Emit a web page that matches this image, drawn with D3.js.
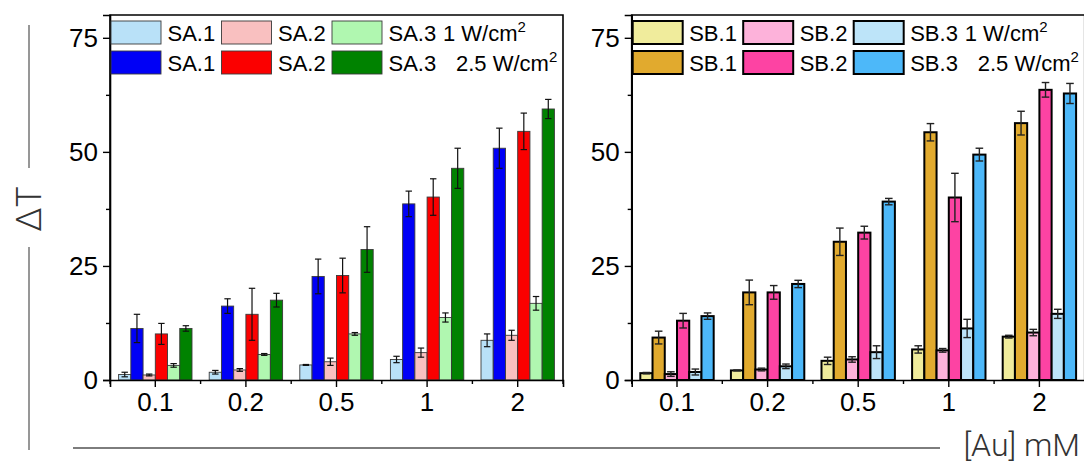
<!DOCTYPE html>
<html>
<head>
<meta charset="utf-8">
<script src="https://cdn.jsdelivr.net/npm/d3@7"></script>
<style>
  html, body { margin: 0; padding: 0; background: #fff; }
  svg { display: block; }
  text { font-family: "Liberation Sans", Arial, sans-serif; fill: #000; }
  .light { font-family: Roboto, "Open Sans", sans-serif; font-weight: 300; fill: #333; }
</style>
</head>
<body>
<svg id="chart" width="1084" height="463"></svg>
<script>
// Gold concentrations (mM) on the x axis
const categories = ["0.1", "0.2", "0.5", "1", "2"];

// Y axis ticks
const majorTicks = [0, 25, 50, 75];
const minorTicks = [12.5, 37.5, 62.5];

// Series SA: temperature rise at 1 W/cm² and 2.5 W/cm²
const sa1Low = [1.2, 1.7, 3.3, 4.5, 8.7];
const sa1LowErr = [0.5, 0.4, 0.1, 0.7, 1.4];
const sa1High = [11.3, 16.2, 22.7, 38.6, 50.8];
const sa1HighErr = [3.1, 1.6, 3.8, 2.8, 4.4];
const sa2Low = [1.1, 2.2, 4.0, 6.0, 9.8];
const sa2LowErr = [0.2, 0.3, 0.8, 1.0, 1.1];
const sa2High = [10.1, 14.4, 22.9, 40.1, 54.5];
const sa2HighErr = [2.3, 5.7, 3.8, 4.0, 4.0];
const sa3Low = [3.2, 5.6, 10.1, 13.7, 16.8];
const sa3LowErr = [0.4, 0.2, 0.3, 1.0, 1.5];
const sa3High = [11.3, 17.5, 28.6, 46.4, 59.4];
const sa3HighErr = [0.6, 1.5, 5.0, 4.4, 2.1];

// Series SB: temperature rise at 1 W/cm² and 2.5 W/cm²
const sb1Low = [1.5, 2.1, 4.2, 6.7, 9.5];
const sb1LowErr = [0.15, 0.1, 0.8, 0.8, 0.3];
const sb1High = [9.3, 19.2, 30.3, 54.3, 56.3];
const sb1HighErr = [1.4, 2.7, 3.0, 1.9, 2.6];
const sb2Low = [1.3, 2.3, 4.5, 6.5, 10.4];
const sb2LowErr = [0.5, 0.3, 0.6, 0.4, 0.7];
const sb2High = [13.0, 19.2, 32.3, 40.0, 63.6];
const sb2HighErr = [1.6, 1.5, 1.4, 5.3, 1.6];
const sb3Low = [1.75, 3.0, 6.1, 11.3, 14.5];
const sb3LowErr = [0.65, 0.5, 1.4, 2.0, 1.0];
const sb3High = [14.0, 21.05, 39.1, 49.4, 62.8];
const sb3HighErr = [0.7, 0.8, 0.7, 1.4, 2.2];

const saNames = ["SA.1", "SA.2", "SA.3"];
const sbNames = ["SB.1", "SB.2", "SB.3"];
const saLowColors = ["#b9e1f8", "#f9c0c0", "#b0f7b0"];
const saHighColors = ["#0000f6", "#fb0000", "#008200"];
const sbLowColors = ["#f0ec9c", "#fdb2da", "#bde4f9"];
const sbHighColors = ["#e1aa2e", "#fd43a3", "#4db8f9"];

const svg = d3.select("#chart");

function panel(cfg) {
  const x0 = cfg.left, x1 = cfg.left + 453, top = 15, bottom = 380;
  const g = svg.append("g");

  const x = d3.scaleBand().domain(categories).range([x0, x1])
    .paddingInner(0.19).paddingOuter(0.095);
  const y = d3.scaleLinear().domain([0, 80]).range([bottom, top]);

  // interleave: 1 W then 2.5 W for each sample
  const series = [];
  for (let i = 0; i < 3; i++) {
    series.push({ values: cfg.low[i], errs: cfg.lowErr[i], color: cfg.lowColors[i] });
    series.push({ values: cfg.high[i], errs: cfg.highErr[i], color: cfg.highColors[i] });
  }
  const xs = d3.scaleBand().domain(d3.range(series.length)).range([0, x.bandwidth()]);

  const bars = [];
  series.forEach((s, si) => {
    categories.forEach((c, ci) => {
      bars.push({ c, si, v: s.values[ci], e: s.errs[ci], color: s.color });
    });
  });

  g.selectAll("rect.bar").data(bars).join("rect")
    .attr("class", "bar")
    .attr("x", d => x(d.c) + xs(d.si))
    .attr("y", d => y(d.v))
    .attr("width", xs.bandwidth())
    .attr("height", d => y(0) - y(d.v))
    .attr("fill", d => d.color)
    .attr("stroke", cfg.barStroke)
    .attr("stroke-width", cfg.barStrokeWidth);

  // error bars
  const eb = g.selectAll("g.err").data(bars).join("g").attr("class", "err")
    .attr("stroke", cfg.errColor).attr("stroke-width", cfg.errWidth);
  const cx = d => x(d.c) + xs(d.si) + xs.bandwidth() / 2;
  eb.append("line").attr("x1", cx).attr("x2", cx)
    .attr("y1", d => y(d.v + d.e)).attr("y2", d => y(Math.max(0, d.v - d.e)));
  eb.append("line").attr("x1", d => cx(d) - cfg.cap).attr("x2", d => cx(d) + cfg.cap)
    .attr("y1", d => y(d.v + d.e)).attr("y2", d => y(d.v + d.e));
  eb.append("line").attr("x1", d => cx(d) - cfg.cap).attr("x2", d => cx(d) + cfg.cap)
    .attr("y1", d => y(Math.max(0, d.v - d.e))).attr("y2", d => y(Math.max(0, d.v - d.e)));

  // frame
  g.append("path")
    .attr("d", `M${x0},${bottom}V${top}H${x1}V${bottom}`)
    .attr("fill", "none").attr("stroke", "#000").attr("stroke-width", 1.6);

  // y axis
  const ya = g.append("g").attr("transform", `translate(${x0},0)`)
    .call(d3.axisLeft(y).tickValues(majorTicks).tickSize(7).tickPadding(5).tickFormat(d3.format("d")));
  ya.select(".domain").attr("stroke-width", 1.6);
  ya.selectAll(".tick line").attr("stroke-width", 1.4);
  ya.selectAll(".tick text").attr("font-size", 26).attr("font-family", "Liberation Sans, Arial, sans-serif");
  const ym = g.append("g").attr("transform", `translate(${x0},0)`)
    .call(d3.axisLeft(y).tickValues(minorTicks).tickSize(4).tickFormat(""));
  ym.select(".domain").remove();
  ym.selectAll(".tick line").attr("stroke-width", 1.4);

  // x axis
  const xa = g.append("g").attr("transform", `translate(0,${bottom})`)
    .call(d3.axisBottom(x).tickSize(7).tickPadding(6));
  xa.select(".domain").attr("stroke-width", 1.6);
  xa.selectAll(".tick line").attr("stroke-width", 1.4);
  xa.selectAll(".tick text").attr("font-size", 26).attr("font-family", "Liberation Sans, Arial, sans-serif");
  // group boundary ticks
  const step = x.step();
  g.selectAll("line.mx").data(d3.range(categories.length + 1)).join("line")
    .attr("class", "mx")
    .attr("x1", i => x0 + i * step).attr("x2", i => x0 + i * step)
    .attr("y1", bottom).attr("y2", bottom + 4)
    .attr("stroke", "#000").attr("stroke-width", 1.4);

  // legend
  const lg = g.append("g");
  const colW = 110.5, sw = 50, sh = 23;
  const rows = [
    { colors: cfg.lowColors, label: "1 W/cm", dx: 54.5 },
    { colors: cfg.highColors, label: "2.5 W/cm", dx: 67.5 }
  ];
  rows.forEach((r, ri) => {
    const ry = 21 + ri * 30;
    cfg.names.forEach((n, ni) => {
      const sx = x0 + 1 + ni * colW;
      lg.append("rect").attr("x", sx).attr("y", ry).attr("width", sw).attr("height", sh)
        .attr("fill", r.colors[ni]).attr("stroke", cfg.barStroke)
        .attr("stroke-width", cfg.barStrokeWidth);
      lg.append("text").attr("x", sx + sw + 6.5).attr("y", ry + 19.5)
        .attr("font-size", 22).text(n);
    });
    const tx = x0 + 1 + 2 * colW + sw + 6.5 + r.dx;
    const t = lg.append("text").attr("x", tx).attr("y", ry + 19.5).attr("font-size", 22);
    t.append("tspan").text(r.label);
    t.append("tspan").attr("font-size", 15).attr("dy", -9).text("2");
  });
}

panel({
  left: 110, names: saNames,
  low: [sa1Low, sa2Low, sa3Low], lowErr: [sa1LowErr, sa2LowErr, sa3LowErr],
  high: [sa1High, sa2High, sa3High], highErr: [sa1HighErr, sa2HighErr, sa3HighErr],
  lowColors: saLowColors, highColors: saHighColors,
  barStroke: "#3a3a3a", barStrokeWidth: 0.9, errColor: "#111", errWidth: 1.2, cap: 3.2
});

panel({
  left: 631.7, names: sbNames,
  low: [sb1Low, sb2Low, sb3Low], lowErr: [sb1LowErr, sb2LowErr, sb3LowErr],
  high: [sb1High, sb2High, sb3High], highErr: [sb1HighErr, sb2HighErr, sb3HighErr],
  lowColors: sbLowColors, highColors: sbHighColors,
  barStroke: "#000", barStrokeWidth: 2, errColor: "#222", errWidth: 1.4, cap: 3.8
});

// shared axis titles
const guide = "#7d7d7d";
svg.append("line").attr("x1", 29).attr("x2", 29).attr("y1", 25).attr("y2", 168)
  .attr("stroke", guide).attr("stroke-width", 1.6);
svg.append("line").attr("x1", 29).attr("x2", 29).attr("y1", 247).attr("y2", 450)
  .attr("stroke", guide).attr("stroke-width", 1.6);
svg.append("text").attr("class", "light")
  .attr("transform", "translate(41,209) rotate(-90)")
  .attr("text-anchor", "middle").attr("font-size", 35).text("ΔT");

svg.append("line").attr("x1", 73).attr("x2", 940).attr("y1", 448).attr("y2", 448)
  .attr("stroke", guide).attr("stroke-width", 2);
svg.append("text").attr("class", "light")
  .attr("x", 1080).attr("y", 456).attr("text-anchor", "end")
  .attr("font-size", 32).text("[Au] mM");
</script>
</body>
</html>
